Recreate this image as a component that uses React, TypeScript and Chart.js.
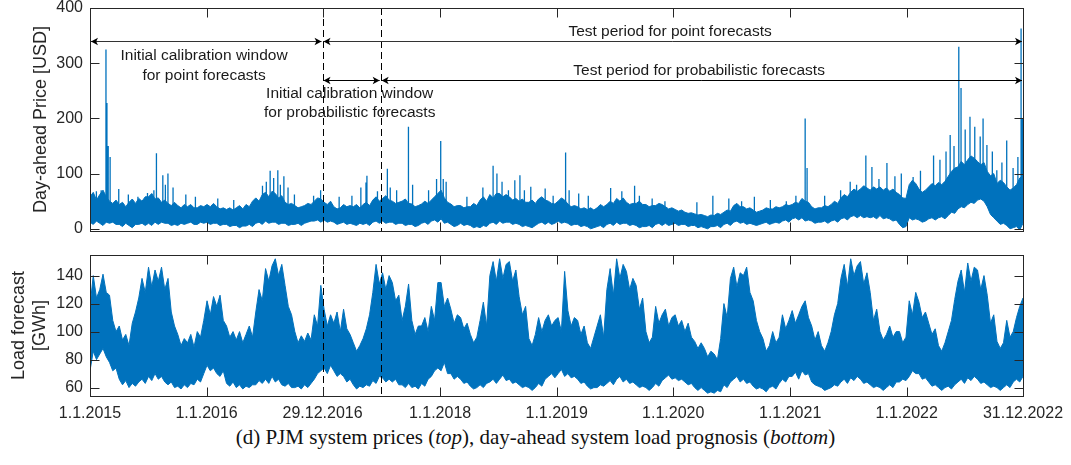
import React, { useEffect, useRef } from 'react';
import { Chart, registerables } from 'chart.js';

Chart.register(...registerables);

// ---------- axis ticks ----------
const X_TICK_DAYS = [0, 365, 728, 1096, 1461, 1826, 2192, 2557, 2921];
const X_TICK_LABELS = ['1.1.2015', '1.1.2016', '29.12.2016', '1.1.2018', '1.1.2019', '1.1.2020', '1.1.2021', '1.1.2022', '31.12.2022'];
const PRICE_TICKS = [0, 100, 200, 300, 400];
const LOAD_TICKS = [60, 80, 100, 120, 140];
const LAST_DAY = 2921;
const DASH_DAYS = [728, 910];

// ---------- price panel: envelope, three readings per month (USD) ----------
const PRICE_HI = [
  58, 66, 52, 62, 70, 58, 50, 46, 52, 44, 48, 40, 48, 54, 46, 55, 50, 58, 58, 64, 54, 56, 48, 52, 46, 42, 48, 42, 38, 44, 40, 44, 38, 38, 42, 40,
  44, 40, 46, 40, 36, 38, 35, 38, 34, 38, 42, 36, 44, 40, 50, 56, 50, 62, 66, 58, 68, 64, 56, 60, 48, 44, 46, 42, 38, 40, 42, 46, 44, 50, 56, 54,
  48, 44, 50, 40, 36, 38, 44, 40, 42, 40, 44, 38, 44, 48, 42, 52, 58, 50, 55, 60, 52, 50, 46, 48, 50, 54, 46, 45, 40, 42, 45, 50, 46, 52, 58, 64,
  70, 56, 48, 45, 40, 42, 42, 38, 40, 40, 46, 42, 52, 58, 50, 62, 56, 64, 64, 58, 62, 58, 52, 55, 50, 54, 48, 48, 52, 46, 54, 58, 52, 50, 46, 45,
  50, 56, 52, 45, 40, 42, 40, 36, 38, 35, 38, 34, 38, 44, 40, 44, 50, 46, 55, 50, 56, 48, 44, 46, 46, 50, 44, 44, 40, 42, 42, 46, 44, 40, 36, 38,
  35, 32, 34, 30, 28, 29, 27, 25, 26, 24, 22, 25, 24, 28, 26, 30, 34, 32, 42, 46, 40, 40, 36, 38, 34, 30, 32, 34, 38, 36, 36, 40, 38, 40, 44, 42,
  44, 48, 46, 55, 50, 48, 40, 36, 38, 38, 42, 40, 44, 50, 46, 56, 62, 58, 66, 72, 68, 72, 78, 74, 70, 76, 72, 76, 70, 74, 68, 72, 66, 62, 56, 55,
  80, 88, 82, 72, 66, 70, 76, 82, 78, 84, 80, 86, 95, 104, 110, 112, 122, 116, 125, 132, 128, 122, 116, 120, 104, 96, 100, 82, 88, 84, 76, 70, 74, 80, 92, 96,
];
const PRICE_LO = [
  12, 8, 14, 10, 6, 12, 10, 12, 8, 8, 4, 10, 6, 2, 8, 8, 10, 6, 10, 6, 12, 8, 12, 10, 10, 6, 8, 6, 10, 8, 10, 12, 8, 8, 12, 10,
  12, 8, 10, 10, 6, 8, 8, 4, 6, 6, 2, 5, 5, 8, 4, 10, 12, 8, 14, 10, 12, 12, 8, 10, 10, 6, 8, 8, 10, 6, 10, 12, 14, 14, 16, 12,
  16, 12, 14, 12, 8, 10, 12, 8, 10, 8, 6, 10, 8, 10, 6, 12, 14, 10, 14, 10, 12, 12, 8, 10, 10, 6, 8, 8, 4, 6, 10, 12, 8, 14, 16, 12,
  18, 10, 12, 8, 4, 6, 10, 6, 8, 6, 2, 4, 2, 6, 4, 10, 12, 8, 14, 10, 12, 12, 8, 10, 8, 4, 6, 4, 2, 6, 10, 12, 8, 12, 8, 10,
  14, 10, 12, 10, 6, 8, 8, 4, 6, 4, 0, 2, 4, 6, 2, 8, 10, 6, 12, 8, 10, 10, 6, 8, 6, 2, 4, 4, 6, 2, 8, 10, 6, 10, 6, 8,
  10, 6, 8, 8, 4, 6, 6, 2, 4, 2, 0, 4, 4, 6, 2, 8, 10, 6, 12, 14, 10, 12, 8, 10, 8, 6, 8, 10, 12, 8, 10, 12, 10, 14, 16, 12,
  18, 20, 16, 20, 14, 16, 14, 10, 12, 12, 14, 10, 14, 16, 12, 18, 20, 16, 22, 24, 20, 24, 20, 22, 20, 22, 18, 24, 18, 20, 18, 14, 16, 8, 2, 4,
  20, 16, 18, 16, 12, 14, 18, 20, 16, 20, 22, 18, 24, 30, 28, 36, 40, 38, 44, 48, 46, 52, 54, 50, 40, 26, 20, 14, 8, 10, 6, 0, 2, 4, -2, 10,
];
const PRICE_SPIKE_DAYS = [
  20, 35, 50, 53, 57, 63, 90, 120, 150, 180, 200, 208, 228, 236, 244, 260, 300, 330, 400, 450,
  540, 552, 564, 575, 588, 596, 607, 620, 640, 700, 722, 780, 820, 848, 864, 867, 900, 931, 940, 960,
  997, 1010, 1060, 1085, 1098, 1106, 1115, 1180, 1230, 1262, 1274, 1290, 1310, 1330, 1346, 1360, 1380, 1425, 1450,
  1489, 1500, 1530, 1560, 1630, 1665, 1705, 1720, 1760, 1800, 1900, 1950, 2000, 2040, 2080, 2130, 2180, 2210,
  2239, 2245, 2300, 2350, 2380, 2400, 2429, 2448, 2470, 2495, 2520, 2540, 2577, 2600, 2641, 2661, 2680, 2693,
  2705, 2720, 2727, 2740, 2755, 2770, 2787, 2796, 2808, 2825, 2839, 2855, 2870, 2890, 2905, 2915, 2919,
];
const PRICE_SPIKE_VALUES = [
  68, 70, 325, 228, 150, 130, 72, 62, 58, 65, 70, 137, 97, 80, 100, 75, 62, 58, 55, 52,
  78, 85, 105, 92, 106, 80, 95, 75, 62, 60, 70, 58, 60, 75, 84, 96, 68, 109, 75, 70,
  185, 80, 70, 90, 159, 90, 85, 58, 75, 114, 100, 85, 70, 88, 97, 70, 76, 73, 60,
  138, 70, 64, 60, 74, 68, 78, 60, 55, 50, 48, 60, 55, 50, 58, 52, 50, 60,
  200, 110, 60, 70, 85, 80, 133, 112, 90, 119, 95, 100, 94, 105, 133, 125, 140, 170,
  150, 330, 255, 180, 203, 185, 167, 200, 152, 140, 106, 120, 160, 110, 130, 363, 200,
];

// ---------- load panel: envelope, three readings per month (GWh) ----------
const LOAD_HI = [
  118, 140, 124, 130, 141, 128, 126, 108, 100, 104, 94, 98, 90, 106, 114, 124, 138, 128, 146, 132, 144, 136, 146, 130, 138, 114, 104, 98, 90, 95, 92, 98, 89, 100, 96, 108,
  122, 112, 125, 118, 126, 108, 104, 96, 100, 94, 100, 92, 98, 104, 96, 114, 130, 122, 145, 136, 147, 152, 140, 148, 133, 118, 112, 100, 92, 97, 93, 99, 94, 112, 104, 133,
  116, 104, 112, 106, 114, 100, 116, 102, 98, 92, 86, 90, 95, 102, 112, 128, 148, 134, 142, 130, 140, 135, 122, 126, 108, 118, 134, 108, 98, 104, 104, 110, 100, 118, 108, 135,
  135, 118, 124, 116, 106, 112, 110, 102, 106, 98, 92, 96, 108, 121, 104, 140, 150, 136, 152, 138, 148, 150, 136, 144, 125, 112, 118, 95, 90, 98, 110, 100, 108, 112, 104, 108,
  110, 100, 143, 115, 104, 110, 108, 98, 104, 92, 88, 96, 104, 112, 96, 130, 145, 126, 152, 138, 148, 143, 130, 138, 133, 116, 124, 100, 92, 96, 118, 106, 112, 116, 104, 110,
  112, 104, 108, 100, 106, 96, 93, 88, 92, 88, 82, 86, 84, 80, 95, 120, 110, 138, 146, 132, 142, 140, 146, 128, 122, 108, 100, 95, 86, 90, 100, 92, 96, 112, 102, 108,
  115, 106, 112, 118, 122, 110, 104, 94, 100, 90, 86, 92, 100, 112, 120, 138, 148, 132, 152, 140, 147, 150, 134, 142, 128, 108, 116, 100, 94, 98, 104, 96, 100, 100, 92, 96,
  122, 112, 128, 121, 110, 114, 106, 98, 102, 90, 86, 92, 100, 108, 123, 136, 144, 128, 149, 136, 146, 144, 130, 140, 126, 106, 112, 93, 88, 92, 108, 96, 100, 110, 118, 124,
];
const LOAD_LO = [
  72, 86, 80, 84, 88, 82, 78, 72, 74, 66, 62, 65, 60, 63, 61, 64, 66, 63, 68, 65, 70, 66, 68, 64, 62, 64, 60, 61, 59, 62, 60, 63, 62, 66, 64, 70,
  76, 72, 74, 70, 68, 72, 63, 61, 64, 60, 62, 59, 61, 60, 62, 62, 65, 63, 66, 63, 68, 64, 66, 62, 61, 63, 60, 60, 61, 59, 62, 60, 63, 66, 70, 72,
  74, 70, 76, 72, 68, 70, 68, 64, 66, 62, 59, 61, 60, 62, 61, 65, 63, 68, 67, 64, 66, 64, 66, 62, 62, 60, 63, 60, 61, 59, 63, 61, 66, 68, 72, 74,
  72, 78, 70, 70, 66, 68, 66, 63, 64, 61, 59, 60, 62, 60, 63, 64, 66, 63, 66, 69, 65, 66, 63, 64, 62, 60, 61, 60, 58, 60, 63, 61, 66, 68, 70, 67,
  70, 73, 68, 70, 67, 68, 66, 63, 64, 61, 59, 60, 60, 62, 61, 63, 65, 62, 66, 68, 64, 66, 63, 64, 62, 60, 61, 60, 58, 60, 63, 61, 65, 67, 69, 66,
  67, 65, 66, 64, 62, 63, 60, 58, 60, 58, 56, 57, 56, 58, 57, 62, 60, 64, 66, 68, 64, 66, 63, 64, 61, 59, 60, 59, 57, 60, 61, 59, 63, 66, 64, 68,
  68, 71, 66, 72, 69, 70, 64, 62, 61, 60, 58, 59, 60, 62, 61, 64, 66, 63, 67, 65, 68, 66, 63, 64, 62, 60, 61, 60, 58, 60, 62, 60, 64, 64, 66, 65,
  68, 72, 70, 70, 66, 67, 64, 61, 62, 60, 58, 60, 61, 59, 62, 64, 66, 63, 67, 65, 68, 66, 63, 64, 62, 60, 61, 60, 58, 60, 62, 60, 64, 66, 64, 68,
];

// ---------- annotations (price panel, in data units) ----------
const POINT_ARROW_DAYS = [0, 728, 2921];
const POINT_ARROW_PRICE = 340;
const PROB_ARROW_DAYS = [728, 910, 2921];
const PROB_ARROW_PRICE = 270;
const NOTE_TEXTS = [
  'Initial calibration window',
  'for point forecasts',
  'Initial calibration window',
  'for probabilistic forecasts',
  'Test period for point forecasts',
  'Test period for probabilistic forecasts',
];
const NOTE_DAYS = [357, 357, 813, 813, 1816, 1907];
const NOTE_PRICES = [313, 278, 245, 210, 357, 287];

const BLUE = '#0072BD';
const AXIS = '#262626';
const SANS = '"Liberation Sans", Arial, Helvetica, sans-serif';

const sampleDay = (i: number, n: number) => (i * LAST_DAY) / (n - 1);
const band = (vals: number[]) => vals.map((v, i) => ({ x: sampleDay(i, vals.length), y: v }));

function spikes(days: number[], vals: number[], lo: number[], hi: number[]) {
  const pts: { x: number; y: number | null }[] = [];
  days.forEach((d, i) => {
    const k = Math.round((d * (hi.length - 1)) / LAST_DAY);
    const base = (lo[k] + hi[k]) / 2;
    pts.push({ x: d, y: base }, { x: d, y: vals[i] }, { x: d, y: null });
  });
  return pts;
}

function arrowHead(ctx: CanvasRenderingContext2D, tip: number, y: number, dir: number) {
  const L = 7, H = 3.8, notch = 1.8;
  ctx.beginPath();
  ctx.moveTo(tip, y);
  ctx.lineTo(tip - dir * L, y - H);
  ctx.lineTo(tip - dir * (L - notch), y);
  ctx.lineTo(tip - dir * L, y + H);
  ctx.closePath();
  ctx.fill();
}

function makeDecor(yTicks: number[], annotate: boolean) {
  return {
    id: 'decor',
    afterDatasetsDraw(chart: any) {
      const { ctx, chartArea: a, scales } = chart;
      const xs = scales.x;
      const ys = scales.y;
      ctx.save();
      ctx.strokeStyle = '#000';
      ctx.lineWidth = 1;
      ctx.setLineDash([7, 4]);
      DASH_DAYS.forEach((d) => {
        const px = Math.round(xs.getPixelForValue(d)) + 0.5;
        ctx.beginPath();
        ctx.moveTo(px, a.top);
        ctx.lineTo(px, a.bottom);
        ctx.stroke();
      });
      ctx.setLineDash([]);
      ctx.strokeStyle = AXIS;
      const L = Math.round(a.left) + 0.5, R = Math.round(a.right) + 0.5;
      const T = Math.round(a.top) + 0.5, B = Math.round(a.bottom) + 0.5;
      ctx.strokeRect(L, T, R - L, B - T);
      const tl = 9;
      ctx.beginPath();
      X_TICK_DAYS.forEach((d) => {
        const px = Math.round(xs.getPixelForValue(d)) + 0.5;
        ctx.moveTo(px, B); ctx.lineTo(px, B - tl);
        ctx.moveTo(px, T); ctx.lineTo(px, T + tl);
      });
      yTicks.forEach((v) => {
        const py = Math.round(ys.getPixelForValue(v)) + 0.5;
        ctx.moveTo(L, py); ctx.lineTo(L + tl, py);
        ctx.moveTo(R, py); ctx.lineTo(R - tl, py);
      });
      ctx.stroke();

      if (annotate) {
        const rows = [
          { days: POINT_ARROW_DAYS, v: POINT_ARROW_PRICE, color: '#333' },
          { days: PROB_ARROW_DAYS, v: PROB_ARROW_PRICE, color: '#000' },
        ];
        rows.forEach((r) => {
          const y = Math.round(ys.getPixelForValue(r.v)) + 0.5;
          ctx.strokeStyle = r.color;
          ctx.fillStyle = '#000';
          for (let i = 0; i < r.days.length - 1; i++) {
            const x1 = xs.getPixelForValue(r.days[i]);
            const x2 = xs.getPixelForValue(r.days[i + 1]);
            ctx.beginPath();
            ctx.moveTo(x1 + 1, y);
            ctx.lineTo(x2 - 1, y);
            ctx.stroke();
            arrowHead(ctx, x1 + 1, y, -1);
            arrowHead(ctx, x2 - 1, y, 1);
          }
        });
        ctx.fillStyle = '#1a1a1a';
        ctx.font = '15.5px ' + SANS;
        ctx.textAlign = 'center';
        ctx.textBaseline = 'middle';
        NOTE_TEXTS.forEach((t, i) => {
          ctx.fillText(t, xs.getPixelForValue(NOTE_DAYS[i]), ys.getPixelForValue(NOTE_PRICES[i]));
        });
      }
      ctx.restore();
    },
  };
}

function baseOptions(yMin: number, yMax: number, yTicks: number[], title: string | string[], titlePad: number, xLabels: boolean, padTop: number, xHeight: number) {
  return {
    responsive: false,
    animation: false,
    devicePixelRatio: 1,
    layout: { padding: { left: 0, right: 48, top: padTop, bottom: 0 } },
    plugins: { legend: { display: false }, tooltip: { enabled: false } },
    elements: { point: { radius: 0 }, line: { tension: 0 } },
    scales: {
      x: {
        type: 'linear',
        min: 0,
        max: LAST_DAY,
        afterBuildTicks: (s: any) => { s.ticks = X_TICK_DAYS.map((v) => ({ value: v })); },
        afterFit: (s: any) => { s.height = xHeight; s.paddingLeft = 0; s.paddingRight = 0; s.paddingTop = 0; s.paddingBottom = 0; },
        grid: { display: false, drawTicks: false },
        border: { display: false },
        ticks: {
          display: xLabels,
          autoSkip: false,
          maxRotation: 0,
          minRotation: 0,
          padding: 8,
          color: AXIS,
          font: { family: SANS, size: 16 },
          callback: (_v: any, i: number) => X_TICK_LABELS[i],
        },
      },
      y: {
        min: yMin,
        max: yMax,
        afterBuildTicks: (s: any) => { s.ticks = yTicks.map((v) => ({ value: v })); },
        afterFit: (s: any) => { s.width = 90; s.paddingTop = 0; s.paddingBottom = 0; s.paddingLeft = 0; s.paddingRight = 0; },
        grid: { display: false, drawTicks: false },
        border: { display: false },
        ticks: { padding: 7, color: AXIS, font: { family: SANS, size: 16 } },
        title: { display: true, text: title, color: AXIS, font: { family: SANS, size: 18 }, padding: { top: titlePad, bottom: 0 } },
      },
    },
  } as any;
}

export default function App() {
  const topRef = useRef<HTMLCanvasElement>(null);
  const botRef = useRef<HTMLCanvasElement>(null);

  useEffect(() => {
    const top = new Chart(topRef.current!, {
      type: 'line',
      data: {
        datasets: [
          { data: band(PRICE_LO), borderColor: BLUE, borderWidth: 1, fill: false, pointRadius: 0 },
          { data: band(PRICE_HI), borderColor: BLUE, borderWidth: 1, fill: '-1', backgroundColor: BLUE, pointRadius: 0 },
          { data: spikes(PRICE_SPIKE_DAYS, PRICE_SPIKE_VALUES, PRICE_LO, PRICE_HI), borderColor: BLUE, borderWidth: 1.3, fill: false, spanGaps: false, pointRadius: 0 },
        ],
      } as any,
      options: baseOptions(-4, 400, PRICE_TICKS, 'Day-ahead Price [USD]', 30, false, 8, 14),
      plugins: [makeDecor(PRICE_TICKS, true)],
    });
    const bot = new Chart(botRef.current!, {
      type: 'line',
      data: {
        datasets: [
          { data: band(LOAD_LO), borderColor: BLUE, borderWidth: 1, fill: false, pointRadius: 0 },
          { data: band(LOAD_HI), borderColor: BLUE, borderWidth: 1, fill: '-1', backgroundColor: BLUE, pointRadius: 0 },
        ],
      } as any,
      options: baseOptions(54, 154.7, LOAD_TICKS, ['Load forecast', '[GWh]'], 8, true, 10, 24),
      plugins: [makeDecor(LOAD_TICKS, false)],
    });
    return () => {
      top.destroy();
      bot.destroy();
    };
  }, []);

  return (
    <div>
      <canvas ref={topRef} width={1071} height={245} style={{ position: 'absolute', left: 0, top: 0, display: 'block' }} />
      <canvas ref={botRef} width={1071} height={175} style={{ position: 'absolute', left: 0, top: 245, display: 'block' }} />
      <div
        style={{
          position: 'absolute',
          left: 0,
          top: 425,
          width: 1071,
          textAlign: 'center',
          font: '21px "Liberation Serif", "Times New Roman", serif',
          lineHeight: '24px',
          color: '#111',
        }}
      >
        (d) PJM system prices (<i>top</i>), day-ahead system load prognosis (<i>bottom</i>)
      </div>
    </div>
  );
}
